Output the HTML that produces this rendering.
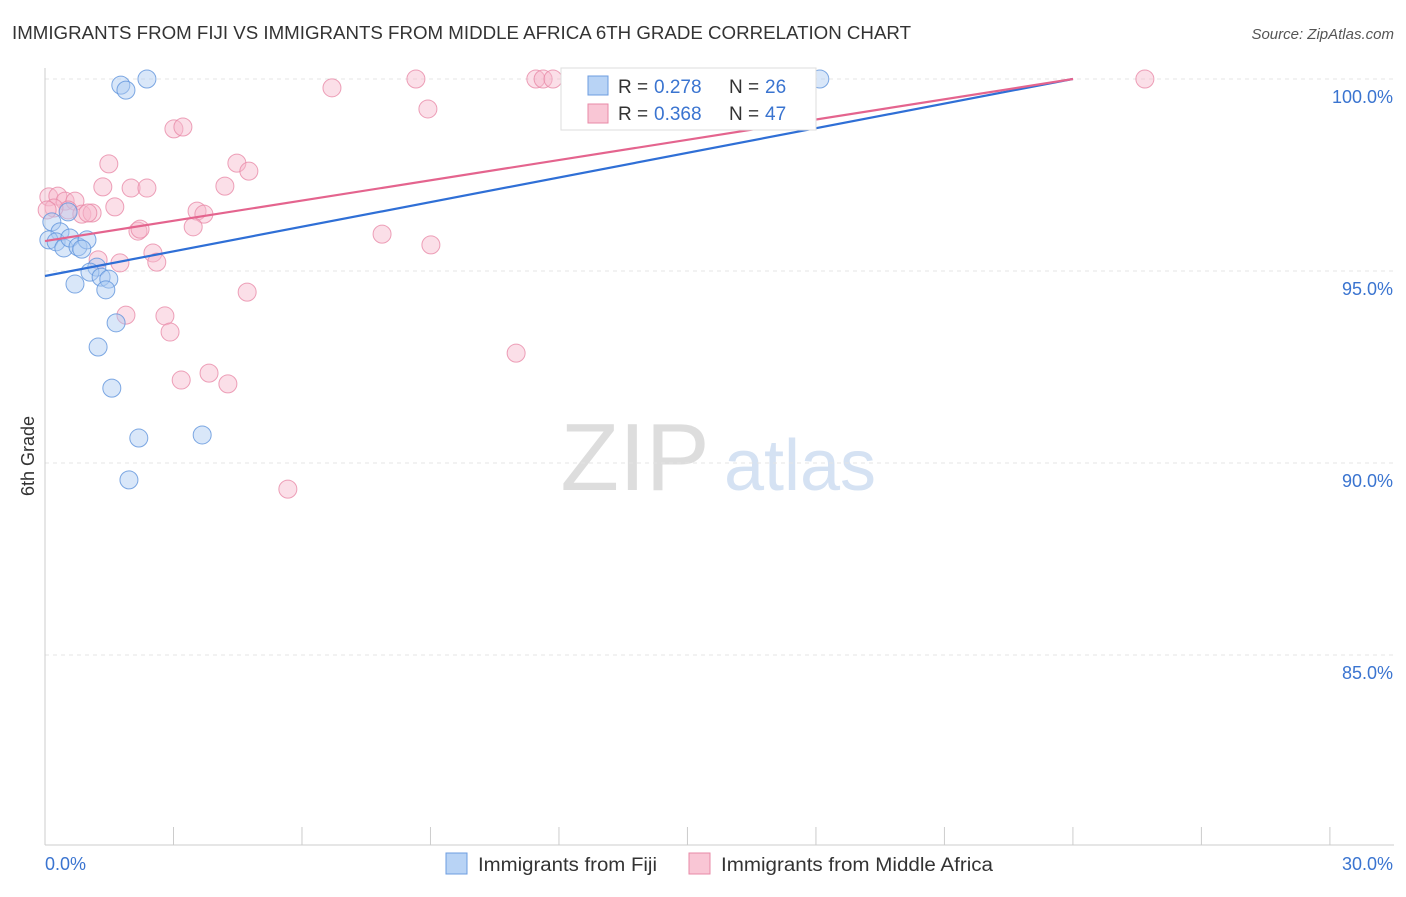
<!DOCTYPE html>
<html><head><meta charset="utf-8"><style>
body{margin:0;background:#fff;font-family:"Liberation Sans",sans-serif}
svg text{font-family:"Liberation Sans",sans-serif}
</style></head><body>
<svg id="chart" width="1406" height="892">
<text x="12" y="39" font-size="18" fill="#333" textLength="899" lengthAdjust="spacingAndGlyphs">IMMIGRANTS FROM FIJI VS IMMIGRANTS FROM MIDDLE AFRICA 6TH GRADE CORRELATION CHART</text>
<text x="1394" y="39" font-size="15" fill="#555" font-style="italic" text-anchor="end">Source: ZipAtlas.com</text>
<text x="34" y="456" font-size="18" fill="#333" transform="rotate(-90 34 456)" text-anchor="middle">6th Grade</text>
<g><text x="635" y="490" font-size="96" fill="#ddd" font-family="Liberation Serif" text-anchor="middle">ZIP</text><text x="800" y="490" font-size="72" fill="#d5e2f3" text-anchor="middle">atlas</text></g>
<g id="grid"></g><g id="axes"></g><g id="marks"></g>
<g>
<rect x="561" y="68" width="255" height="62" fill="#fff" stroke="#ddd"/>
<rect x="588" y="76" width="20" height="19" fill="#b8d3f5" stroke="#6d9de0"/>
<rect x="588" y="104" width="20" height="19" fill="#f9c6d5" stroke="#e88aa7"/>
<text x="618" y="93" font-size="19" fill="#333">R =</text><text x="654" y="93" font-size="19" fill="#3a74d0">0.278</text>
<text x="729" y="93" font-size="19" fill="#333">N =</text><text x="765" y="93" font-size="19" fill="#3a74d0">26</text>
<text x="618" y="120" font-size="19" fill="#333">R =</text><text x="654" y="120" font-size="19" fill="#3a74d0">0.368</text>
<text x="729" y="120" font-size="19" fill="#333">N =</text><text x="765" y="120" font-size="19" fill="#3a74d0">47</text>
</g>
<g>
<rect x="446" y="853" width="21" height="21" fill="#b8d3f5" stroke="#6d9de0"/>
<text x="478" y="871" font-size="19" fill="#333" textLength="179" lengthAdjust="spacingAndGlyphs">Immigrants from Fiji</text>
<rect x="689" y="853" width="21" height="21" fill="#f9c6d5" stroke="#e88aa7"/>
<text x="721" y="871" font-size="19" fill="#333" textLength="272" lengthAdjust="spacingAndGlyphs">Immigrants from Middle Africa</text>
</g>
</svg>
<script>
const fijiX=[1.77,1.89,2.38,18.09,0.16,0.35,0.09,0.26,0.44,0.58,0.77,0.98,0.86,1.21,1.05,1.31,1.49,0.70,1.42,1.66,1.24,1.56,2.19,3.67,1.96,0.54];
const fijiY=[99.84,99.71,100,100,96.28,96.02,95.81,95.76,95.60,95.86,95.63,95.81,95.57,95.10,94.97,94.84,94.79,94.66,94.51,93.65,93.02,91.95,90.65,90.73,89.56,96.54];
const afrX=[0.09,0.30,0.47,0.70,0.54,0.21,0.86,1.10,0.05,1.49,1.35,1.63,2.01,2.38,3.01,3.22,4.48,4.76,4.20,3.55,3.71,3.46,2.17,2.22,2.52,2.61,1.75,1.24,1.89,2.80,2.92,3.18,3.83,4.27,4.72,5.67,6.70,8.66,8.94,7.87,9.01,11.00,11.46,11.63,11.86,25.68,1.00];
const afrY=[96.93,96.95,96.82,96.82,96.59,96.64,96.48,96.51,96.59,97.79,97.19,96.67,97.16,97.16,98.70,98.75,97.81,97.60,97.21,96.56,96.48,96.15,96.04,96.09,95.47,95.23,95.21,95.29,93.85,93.83,93.41,92.16,92.34,92.06,94.45,89.32,99.77,100,99.22,95.96,95.68,92.86,100,100,100,100,96.51];
const trendFiji=[94.87,0.2138];
const trendAfr=[95.78,0.1758];
const yTicks=[100,95,90,85];
const xTickVals=[0,3,6,9,12,15,18,21,24,27,30];
const NS="http://www.w3.org/2000/svg";
const xs=v=>45+v*42.83, ys=v=>79+(100-v)*38.4;
function mk(t,a,p){const e=document.createElementNS(NS,t);for(const k in a)e.setAttribute(k,a[k]);p.appendChild(e);return e;}
const grid=document.getElementById('grid'),axes=document.getElementById('axes'),marks=document.getElementById('marks');
yTicks.forEach(v=>{
 const l=mk('line',{x1:45,x2:1394,y1:ys(v),y2:ys(v),stroke:'#e4e4e4','stroke-dasharray':'4,4'},grid);
 
 
 const t=mk('text',{x:1393,y:ys(v)+24,'font-size':18,fill:'#3a74d0','text-anchor':'end'},axes);
 t.textContent=v.toFixed(1)+'%';
 
 
});
const ya=mk('line',{x1:45,x2:45,y1:68,y2:845,stroke:'#ccc'},axes);


const xa=mk('line',{x1:45,x2:1394,y1:845,y2:845,stroke:'#ccc'},axes);


xTickVals.forEach(v=>{
 const l=mk('line',{x1:xs(v),x2:xs(v),y1:827,y2:845,stroke:'#ccc'},axes);
 
 
});
[[0,'start'],[30,'end']].forEach(([v,a])=>{
 const t=mk('text',{x:v===0?45:1393,y:870,'font-size':18,fill:'#3a74d0','text-anchor':a},axes);
 t.textContent=v.toFixed(1)+'%';
 
 
});
function pts(X,Y,fill,stroke,name){X.forEach((x,i)=>{
 const c=mk('circle',{cx:xs(x),cy:ys(Y[i]),r:9,fill:fill,'fill-opacity':0.45,stroke:stroke,'stroke-opacity':0.8,'stroke-width':1},marks);
 
 
});}
pts(afrX,afrY,'#f7b8cb','#e88aa7','point-middle-africa');
pts(fijiX,fijiY,'#aac9f2','#5f93dc','point-fiji');
function trend(tr,col,name){
 const xe=(100-tr[0])/tr[1];
 const l=mk('line',{x1:xs(0),y1:ys(tr[0]),x2:xs(xe),y2:ys(100),stroke:col,'stroke-width':2.2},marks);
 
 
}
trend(trendFiji,'#2f6fd6','trend-line-fiji');
trend(trendAfr,'#e4648e','trend-line-middle-africa');
</script>
</body></html>
